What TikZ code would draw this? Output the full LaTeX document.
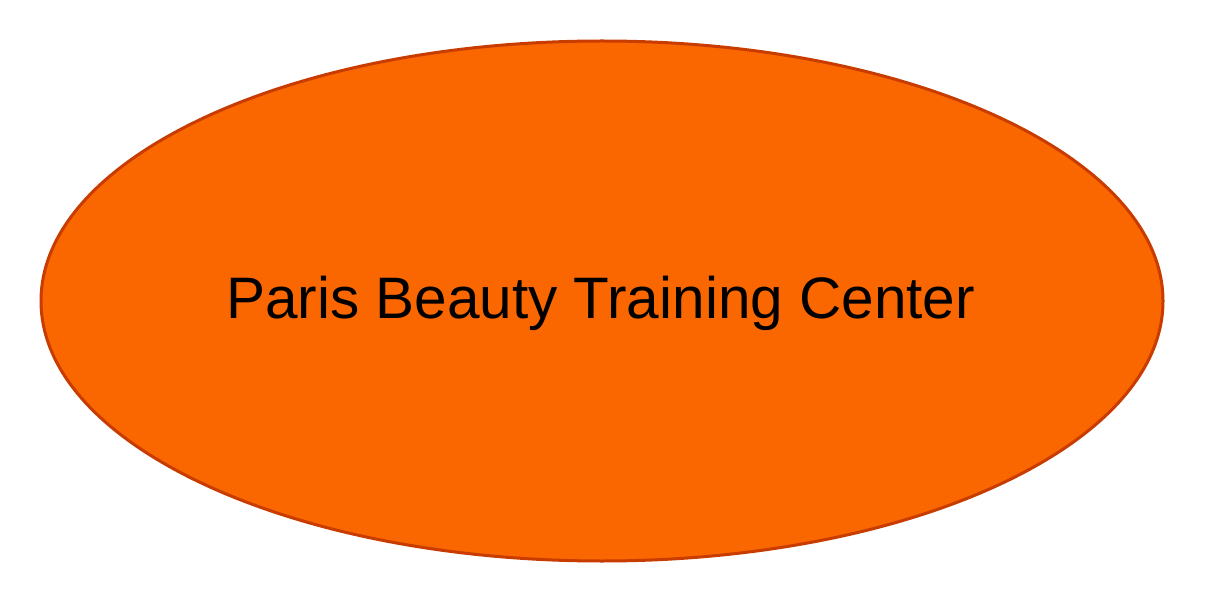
\documentclass[tikz,border=0pt]{standalone}
\usepackage{fontspec}
\setmainfont{Liberation Sans}
\definecolor{fillor}{HTML}{FA6600}
\definecolor{edgeor}{HTML}{C83C00}
\tikzset{lbl/.style={font=\fontsize{58.5}{66}\selectfont, text=black, inner sep=0pt}}
\begin{document}
\begin{tikzpicture}[x=1pt,y=1pt]
\useasboundingbox (0,0) rectangle (1208,-604);
\fill[white] (0,0) rectangle (1208,-604);
\draw[fill=fillor, draw=edgeor, line width=3pt] (602,-301) ellipse [x radius=561, y radius=260];
\node[lbl, anchor=base] (t) at (600.5,-319) {Paris Beauty Training Center};
\end{tikzpicture}
\end{document}
